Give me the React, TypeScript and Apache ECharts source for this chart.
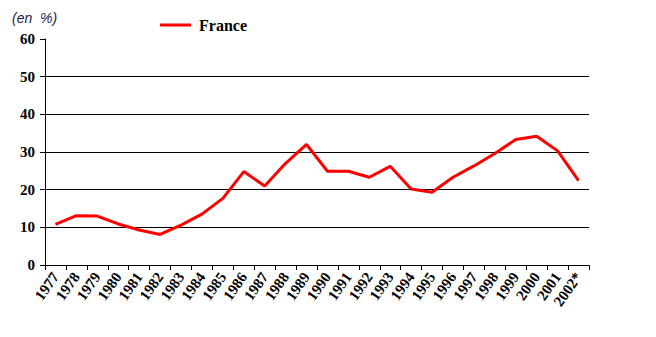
import React, { useEffect, useRef } from "react";
import * as echarts from "echarts";

const years = ["1977","1978","1979","1980","1981","1982","1983","1984","1985","1986","1987","1988","1989","1990","1991","1992","1993","1994","1995","1996","1997","1998","1999","2000","2001","2002*"];
const france = [10.8,13.1,13,10.9,9.3,8.1,10.6,13.5,17.7,24.8,21,27,32,24.9,24.9,23.3,26.2,20.2,19.3,23.3,26.3,29.6,33.3,34.2,30.3,22.4];
const seriesName = "France";
const unitLabel = "(en  %)";

const SERIF = "'Liberation Serif', 'Times New Roman', serif";

export default function App() {
  const ref = useRef<HTMLDivElement>(null);
  useEffect(() => {
    const chart = echarts.init(ref.current!, null, { renderer: "svg" });
    chart.setOption({
      animation: false,
      backgroundColor: "#fff",
      textStyle: { fontFamily: SERIF },
      graphic: [
        { type: "text", left: 12, top: 11, style: { text: unitLabel, fontFamily: "'Liberation Sans', sans-serif", fontStyle: "italic", fontSize: 14, fill: "#1a1a50" } },
      ],
      legend: {
        left: 155, top: 12, itemWidth: 31, itemHeight: 3, itemGap: 10,
        icon: "rect",
        data: [seriesName],
        textStyle: { fontFamily: SERIF, fontWeight: "bold", fontSize: 16, color: "#000", padding: [0, 0, 0, 3] },
      },
      grid: { left: 45, right: 67, top: 39, bottom: 72, containLabel: false },
      xAxis: {
        type: "category",
        data: years,
        boundaryGap: true,
        axisLine: { lineStyle: { color: "#000", width: 1 } },
        axisTick: { show: true, length: 5, lineStyle: { color: "#000" } },
        axisLabel: { rotate: 55, interval: 0, fontFamily: SERIF, fontWeight: "bold", fontSize: 15, color: "#000", margin: 9 },
        splitLine: { show: false },
      },
      yAxis: {
        type: "value", min: 0, max: 60, interval: 10,
        axisLine: { show: true, lineStyle: { color: "#000" } },
        axisTick: { show: true, length: 5, lineStyle: { color: "#000" } },
        axisLabel: { fontFamily: SERIF, fontWeight: "bold", fontSize: 15, color: "#000", margin: 10 },
        splitLine: { show: true, lineStyle: { color: ["#000","#000","#000","#000","#000","#000","rgba(0,0,0,0)"], width: 1 } },
      },
      series: [
        { name: seriesName, type: "line", data: france, symbol: "none", lineStyle: { color: "#ff0000", width: 3 }, itemStyle: { color: "#ff0000" } },
      ],
    });
    return () => chart.dispose();
  }, []);
  return <div ref={ref} style={{ width: 656, height: 337, position: "absolute", left: 0, top: 0 }} />;
}
